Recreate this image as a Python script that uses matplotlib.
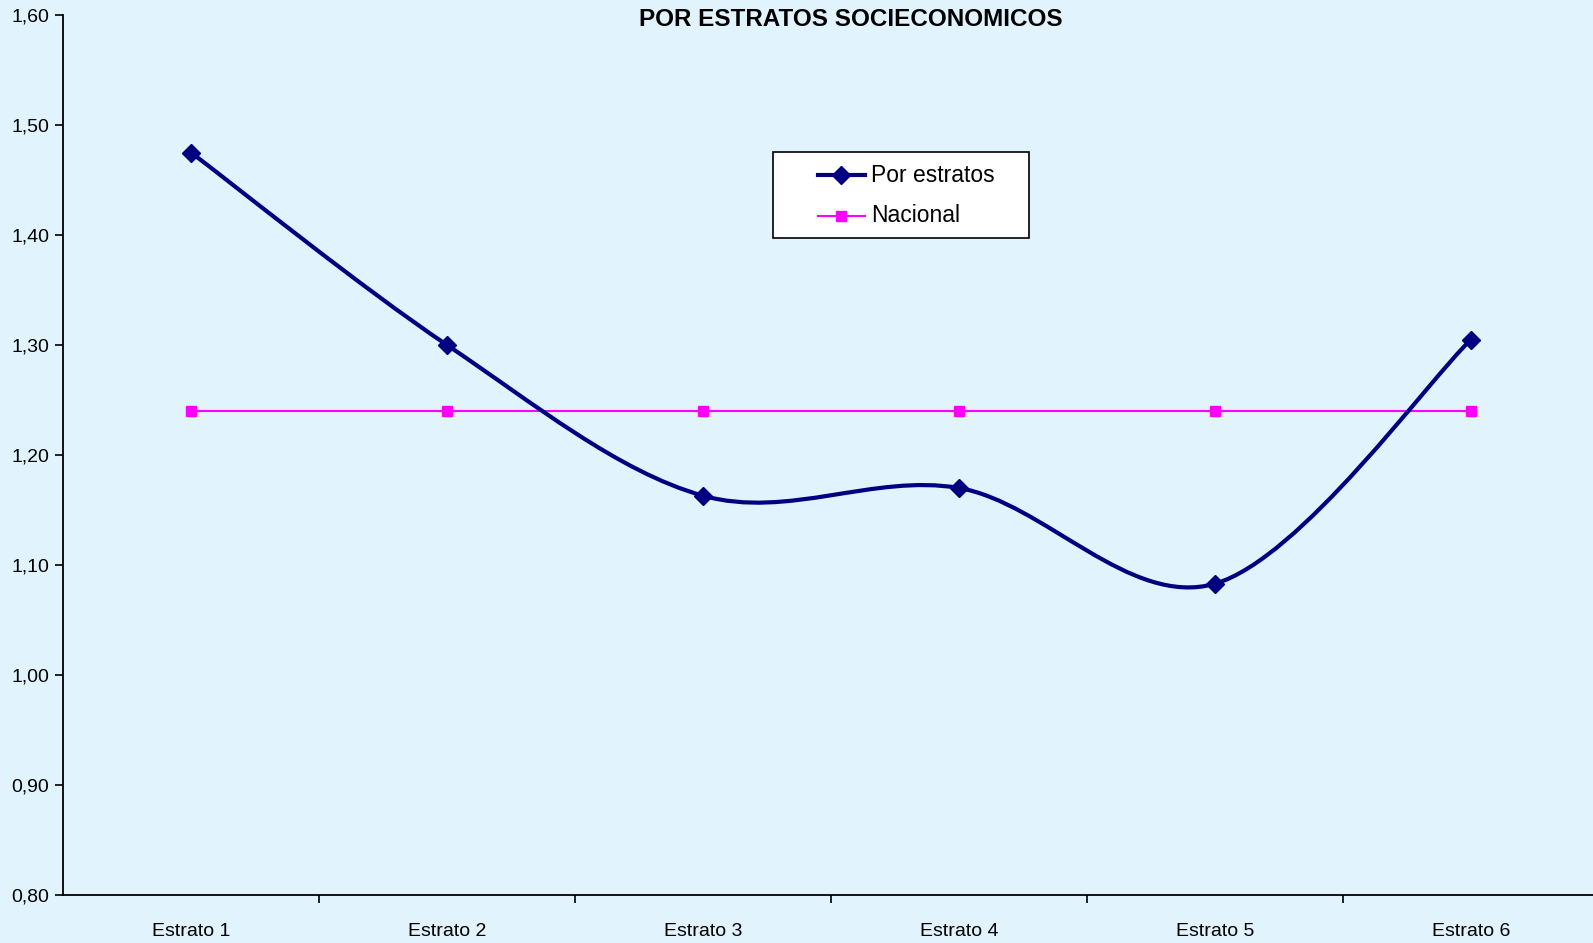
import matplotlib.pyplot as plt
from matplotlib.path import Path
from matplotlib.patches import PathPatch, Rectangle
from matplotlib.lines import Line2D
from matplotlib.ticker import FuncFormatter, MultipleLocator
import numpy as np

plt.rcParams['font.family'] = ['Liberation Sans Narrow', 'Liberation Sans', 'DejaVu Sans']

estratos = ["Estrato 1", "Estrato 2", "Estrato 3", "Estrato 4", "Estrato 5", "Estrato 6"]
por_estratos = [1.475, 1.300, 1.163, 1.170, 1.083, 1.305]
nacional = [1.24, 1.24, 1.24, 1.24, 1.24, 1.24]

azul = "#000080"
magenta = "#FF00FF"
fondo = "#E1F3FD"

W, H = 1593, 943
fig = plt.figure(figsize=(W / 100, H / 100), dpi=100, facecolor=fondo)
ax = fig.add_axes([63 / W, 48 / H, 1536 / W, 880 / H], facecolor=fondo)

x = np.arange(len(estratos))
y = np.array(por_estratos)

# curva suavizada tipo Excel (Bezier con tangentes de Catmull-Rom)
pts = np.column_stack([x, y])
ext = np.vstack([pts[0], pts, pts[-1]])
verts = [tuple(pts[0])]
codes = [Path.MOVETO]
for i in range(len(pts) - 1):
    p0, p1, p2, p3 = ext[i], ext[i + 1], ext[i + 2], ext[i + 3]
    c1 = p1 + (p2 - p0) / 6
    c2 = p2 - (p3 - p1) / 6
    verts += [tuple(c1), tuple(c2), tuple(p2)]
    codes += [Path.CURVE4] * 3
curva = PathPatch(Path(verts, codes), facecolor="none", edgecolor=azul, lw=3, zorder=3)
ax.add_patch(curva)
ax.plot(x, y, linestyle="none", marker="D", markersize=9.5, color=azul, zorder=4)

ax.plot(x, nacional, color=magenta, lw=1.5, marker="s", markersize=7, zorder=2)

ax.set_xlim(-0.5, 5.5)
ax.set_ylim(0.80, 1.60)
ax.yaxis.set_major_locator(MultipleLocator(0.1))
ax.yaxis.set_major_formatter(FuncFormatter(lambda v, p: f"{v:.2f}".replace(".", ",")))
ax.set_xticks(x)
ax.set_xticklabels(estratos)
ax.set_xticks(np.arange(0.5, 5.0, 1.0), minor=True)
ax.tick_params(axis="x", which="major", length=0, pad=20, labelsize=14)
ax.tick_params(axis="x", which="minor", length=6, width=1.2, direction="out")
ax.tick_params(axis="y", length=6, width=1.2, labelsize=14, pad=4)

for s in ["top", "right"]:
    ax.spines[s].set_visible(False)
for s in ["left", "bottom"]:
    ax.spines[s].set_linewidth(1.3)
ax.spines["bottom"].set_zorder(5)

fig.text(851 / W, 1 - 20 / H, "POR ESTRATOS SOCIECONOMICOS", ha="center", va="center",
         fontsize=17.5, fontweight="bold")

# leyenda en recuadro blanco
fig.add_artist(Rectangle((773 / W, 1 - 238 / H), 256 / W, 86 / H, transform=fig.transFigure,
                         facecolor="white", edgecolor="black", lw=1.2, zorder=6))
filas = [("Por estratos", azul, 3, "D", 9.5, 175), ("Nacional", magenta, 1.5, "s", 7, 216)]
for texto, color, lw, mk, ms, yp in filas:
    yf = 1 - yp / H
    fig.add_artist(Line2D([818 / W, 865 / W], [yf, yf], transform=fig.transFigure,
                          color=color, lw=lw, zorder=7))
    fig.add_artist(Line2D([841 / W], [yf], transform=fig.transFigure, color=color,
                          marker=mk, markersize=ms, linestyle="none", zorder=8))
    fig.text(871 / W, yf, texto, ha="left", va="center", fontsize=16.5, zorder=8)

plt.savefig("out.png", dpi=100, facecolor=fondo)
